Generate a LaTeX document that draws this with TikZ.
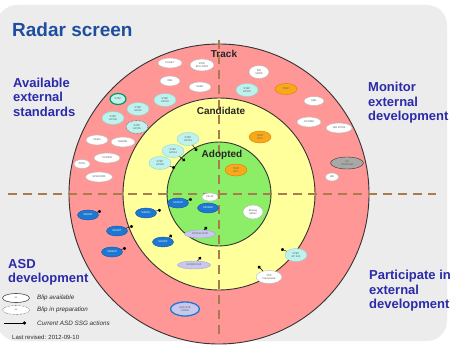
\documentclass[tikz,border=0pt]{standalone}
\usepackage{fontspec}
\setmainfont{Liberation Sans}
\usetikzlibrary{shapes.geometric,arrows.meta}
\definecolor{panel}{HTML}{ECECEC}
\definecolor{ringred}{HTML}{FF9797}
\definecolor{ringyel}{HTML}{FFFF9C}
\definecolor{ringgrn}{HTML}{8CEE66}
\definecolor{dashbrown}{HTML}{A87C4C}
\definecolor{titleblue}{HTML}{1F4E9F}
\definecolor{quadblue}{HTML}{2B2BAA}
\definecolor{blipteal}{HTML}{BDF2EE}
\definecolor{tealborder}{HTML}{8FD8D0}
\definecolor{blipblue}{HTML}{1E78D2}
\definecolor{blueborder}{HTML}{0E5AA8}
\definecolor{bliplav}{HTML}{C8C8EE}
\definecolor{lavborder}{HTML}{A4A4D8}
\definecolor{bliporange}{HTML}{F7A81B}
\definecolor{orangeborder}{HTML}{E07B00}
\definecolor{blipgrey}{HTML}{A8A8A8}
\tikzset{
  blip/.style={ellipse, draw=gray!55, line width=0.4pt, inner sep=0pt,
    minimum width=24pt, minimum height=10pt, fill=white,
    font=\fontsize{2.6}{3}\selectfont, text=gray!70!black, align=center},
  tealblip/.style={blip, fill=blipteal, draw=tealborder, minimum width=22pt, minimum height=13pt},
  blueblip/.style={blip, fill=blipblue, draw=blueborder, minimum width=21pt, minimum height=10pt, text=white},
  lavblip/.style={blip, fill=bliplav, draw=lavborder, minimum width=31pt, minimum height=8pt},
  orangeblip/.style={blip, fill=bliporange, draw=orangeborder, minimum width=22pt, minimum height=11pt},
  greyblip/.style={blip, fill=blipgrey, draw=gray!40!black, minimum width=33pt, minimum height=12pt},
  act/.style={draw=black, line width=0.45pt, -{Circle[length=3.2pt]}},
  ring/.style={draw=black!80, line width=0.9pt},
  divider/.style={draw=dashbrown, line width=1.4pt, dash pattern=on 9pt off 6pt},
  quad/.style={font=\fontsize{13}{14.5}\selectfont\bfseries, text=quadblue, align=left, anchor=north west, inner sep=0pt},
  ringlabel/.style={font=\fontsize{10}{12}\selectfont\bfseries, inner sep=0pt, text=black!85},
  legtext/.style={font=\fontsize{6.3}{7}\selectfont\itshape, text=gray!35!black, anchor=west, inner sep=0pt}
}
\begin{document}
\begin{tikzpicture}[x=1pt,y=-1pt]
\useasboundingbox (0,0) rectangle (452,345);
\fill[white] (0,0) rectangle (452,345);
\fill[panel, rounded corners=20pt] (-3,5) rectangle (447,341);
% rings
\coordinate (c) at (219,194);
\filldraw[ring, fill=ringred] (c) circle[radius=150];
\filldraw[ring, fill=ringyel] (c) circle[radius=96];
\filldraw[ring, fill=ringgrn] (c) circle[radius=52];
% dividers
\coordinate (vtop) at (219,40);
\coordinate (vbot) at (219,340);
\coordinate (hl) at (8,194);
\coordinate (hr) at (436,194);
\draw[divider] (vtop) -- (vbot);
\draw[divider] (hl) -- (hr);
% titles
\node[font=\fontsize{19}{22}\selectfont\bfseries, text=titleblue, anchor=base west, inner sep=0pt] (title) at (12,37) {Radar screen};
\node[quad] (qa) at (13,77.5) {Available\\external\\standards};
\node[quad] (qm) at (368,82) {Monitor\\external\\development};
\node[quad] (qd) at (8,259) {ASD\\development};
\node[quad] (qp) at (369,270) {Participate in\\external\\development};
\node[ringlabel] (ltrack) at (224,53.5) {Track};
\node[ringlabel] (lcand) at (221,110.5) {Candidate};
\node[ringlabel] (ladopt) at (222,155) {Adopted};
% Track ring, upper left
\node[blip] (t1) at (170,63) {CAGE-7};
\node[blip, minimum height=12pt] (t2) at (202,65) {RFID\\EPC-RFID};
\node[blip, minimum width=20pt] (t3) at (170,81) {XML};
\node[blip, minimum width=22pt] (t4) at (200,87) {SAML};
\node[tealblip, draw=teal!80!green, line width=1.2pt, minimum width=16pt, minimum height=11pt] (t5) at (118,99) {STEP};
\node[tealblip] (t6) at (165,100) {STEP\\AP233};
\node[tealblip] (t7) at (138,109) {STEP\\AP221};
\node[tealblip] (t8) at (113,118) {STEP\\AP209};
\node[tealblip, draw=gray!50!black, densely dotted, line width=0.6pt] (t9) at (137,127) {STEP\\AP235};
\node[blip, minimum width=22pt] (t10) at (97,140) {XPath};
\node[blip] (t11) at (123,142) {MathML};
\node[blip, minimum width=26pt] (t12) at (107,158) {XCORN};
\node[blip, minimum width=16pt, minimum height=9pt] (t13) at (82,164) {XPDL};
\node[blip, minimum width=27pt] (t14) at (99,177) {SPEC2000};
% Track ring, upper right
\node[blip, minimum width=20pt, minimum height=13pt] (t15) at (259,72) {ISO\\15926};
\node[tealblip] (t16) at (247,90) {STEP\\AP233};
\node[orangeblip] (t17) at (286,89) {TSCP};
\node[blip, minimum width=20pt, minimum height=9pt] (t18) at (314,101) {UML};
\node[blip] (t19) at (309,122) {SCORM};
\node[blip, minimum width=26pt] (t20) at (339,128) {ISO 29794};
\node[greyblip] (t21) at (347,163) {SX\\GS1/DCM};
\node[blip, minimum width=13pt, minimum height=8pt] (t22) at (332,177) {UID};
% Track ring, lower
\node[blueblip] (t23) at (88,215) {S5000F};
\node[blueblip] (t24) at (117,231) {S6000T};
\node[blueblip] (t25) at (112,252) {S9000D};
\node[lavblip, draw=blipblue, line width=1.3pt, minimum width=29pt, minimum height=14pt] (t26) at (185,309) {ASD-STE\\CDAM};
% Candidate ring
\node[tealblip] (c1) at (188,139) {STEP\\AP203};
\node[tealblip] (c2) at (173,151) {STEP\\AP214};
\node[tealblip] (c3) at (160,163) {STEP\\AP239};
\node[orangeblip, minimum height=12pt] (c4) at (260,137) {TSCP\\SP-2};
\node[tealblip] (c5) at (296,255) {STEP\\AP 242};
\node[blip, minimum width=26pt, minimum height=13pt] (c6) at (269,277) {TDP\\Framework};
\node[lavblip, minimum width=33pt] (c7) at (194,265) {SX000i Draft};
\node[blueblip] (c8) at (163,242) {S4000P};
\node[blueblip] (c9) at (146,213) {S3000L};
% Adopted
\node[orangeblip, minimum height=12pt] (g1) at (236,170) {TSCP\\SP-1};
\node[blip, minimum width=16pt, minimum height=8pt] (g2) at (210,197) {CE AF};
\node[blueblip] (g3) at (178,203) {S1000D};
\node[blueblip] (g4) at (208,208) {S2000M};
\node[blip, minimum width=20pt, minimum height=14pt] (g5) at (253,212) {Boeing\\Airbus};
\node[lavblip] (g6) at (200,234) {SX001G Draft};
% actions
\coordinate (d1) at (197,151);
\coordinate (d2) at (185,161);
\coordinate (d3) at (175,168);
\coordinate (d4) at (192,199);
\coordinate (d5) at (161,210);
\coordinate (d6) at (101,211);
\coordinate (d7) at (133,226);
\coordinate (d8) at (126,248);
\coordinate (d9) at (172,235);
\coordinate (d10) at (207,227);
\coordinate (d11) at (201,257);
\coordinate (d12) at (281,249);
\coordinate (d13) at (258,266);
\draw[act] (c1) -- (d1);
\draw[act] (c2) -- (d2);
\draw[act] (c3) -- (d3);
\draw[act] (g3) -- (d4);
\draw[act] (c9) -- (d5);
\draw[act] (t23) -- (d6);
\draw[act] (t24) -- (d7);
\draw[act] (t25) -- (d8);
\draw[act] (c8) -- (d9);
\draw[act] (g6) -- (d10);
\draw[act] (c7) -- (d11);
\draw[act] (c5) -- (d12);
\draw[act] (c6) -- (d13);
% legend
\node[blip, draw=gray!60!black, line width=0.6pt, minimum width=27pt, minimum height=9pt] (la) at (16,298) {xx};
\node[blip, draw=gray!60!black, densely dotted, line width=0.6pt, minimum width=27pt, minimum height=9pt] (lb) at (16,310) {xx};
\coordinate (lc1) at (4,323);
\coordinate (lc2) at (26,323);
\draw[act] (lc1) -- (lc2);
\node[legtext] (lta) at (37,298) {Blip available};
\node[legtext] (ltb) at (37,310) {Blip in preparation};
\node[legtext] (ltc) at (37,323) {Current ASD SSG actions};
\node[legtext, font=\fontsize{6}{7}\selectfont] (ltd) at (12,337) {Last revised: 2012-09-10};
\end{tikzpicture}
\end{document}
